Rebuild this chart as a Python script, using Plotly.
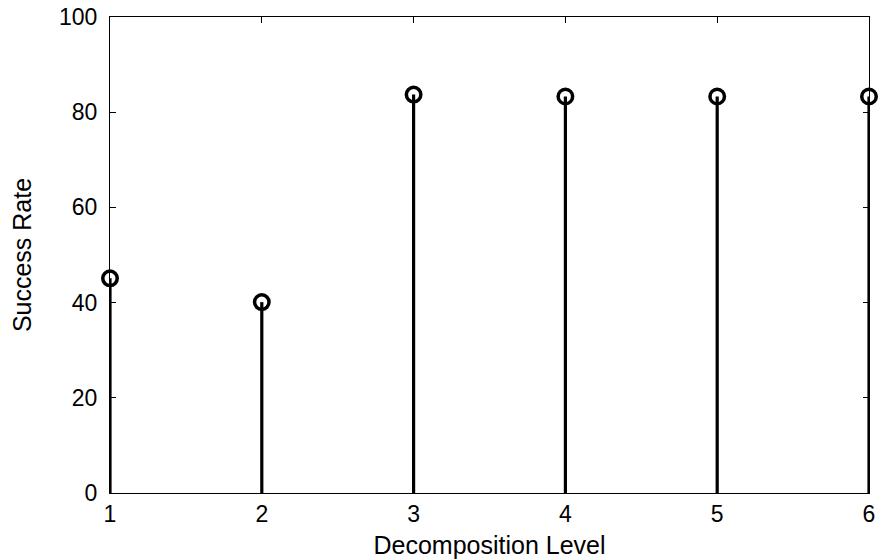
import plotly.graph_objects as go

levels = [1, 2, 3, 4, 5, 6]
success = [45.1, 40.1, 83.7, 83.3, 83.3, 83.3]
x_ticks = [1, 2, 3, 4, 5, 6]
y_ticks = [0, 20, 40, 60, 80, 100]

stem_x, stem_y = [], []
for xv, yv in zip(levels, success):
    stem_x += [xv, xv, None]
    stem_y += [0, yv, None]

FONT = "Liberation Sans, Arial, Helvetica, sans-serif"

fig = go.Figure()
fig.add_trace(go.Scatter(x=stem_x, y=stem_y, mode="lines",
                         line=dict(color="black", width=3.2),
                         hoverinfo="skip", showlegend=False, cliponaxis=False))
fig.add_trace(go.Scatter(x=levels, y=success, mode="markers",
                         marker=dict(symbol="circle-open", size=14.5, color="black",
                                     line=dict(width=3.5, color="black")),
                         showlegend=False, cliponaxis=False))

axis_common = dict(showline=True, linecolor="black", linewidth=1.2, mirror="ticks",
                   ticks="inside", ticklen=6, tickcolor="black", tickwidth=1,
                   showgrid=False, zeroline=False,
                   tickfont=dict(family=FONT, size=23, color="black"),
                   title_font=dict(family=FONT, size=25, color="black"))

fig.update_xaxes(range=[1, 6], tickvals=x_ticks, ticktext=[str(v) for v in x_ticks],
                 title_text="Decomposition Level", title_standoff=14, **axis_common)
fig.update_yaxes(range=[0, 100], tickvals=y_ticks, ticktext=[str(v) for v in y_ticks],
                 title_text="Success Rate", title_standoff=20, ticklabelstandoff=7,
                 **axis_common)

fig.update_layout(width=879, height=559, plot_bgcolor="white", paper_bgcolor="white",
                  margin=dict(l=110, r=10, t=17, b=66, autoexpand=False))
fig.write_html("out.html", config={"displayModeBar": False},
               post_script="document.body.style.margin='0';")
